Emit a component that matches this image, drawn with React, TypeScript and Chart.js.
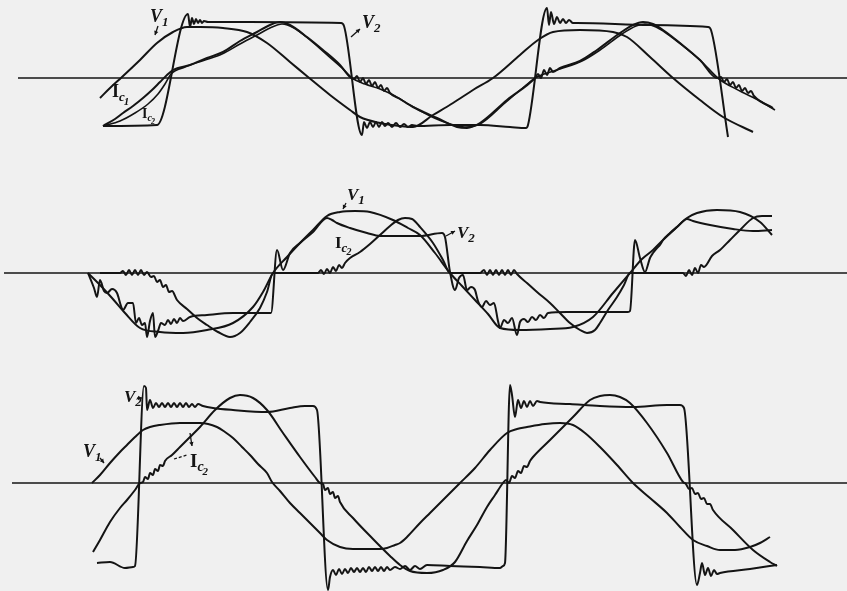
import React, { useEffect, useRef } from "react";
import { Chart, registerables } from "chart.js";

Chart.register(...registerables);

type P = [number, number];

// ---------- Panel 1 (time units, amplitude relative to zero line) ----------
const p1Axis: P[] = [[18, 0], [847, 0]];
const p1V1: P[] = [[100, -20], [110, -10], [122, 1], [140, 18], [157, 35], [173, 46], [187, 51], [200, 51], [223, 50], [247, 46], [267, 35], [290, 16], [308, 1], [330, -17], [350, -32], [360, -39], [380, -45], [400, -48], [413, -49], [433, -37], [453, -25], [473, -12], [493, 0], [520, 23], [538, 38], [553, 46], [580, 48], [613, 46], [627, 41], [650, 21], [673, 0], [700, -22], [723, -39], [753, -54]];
const p1V2: P[] = [[103, -48], [157, -47], [188, 64], [190, 51], [192, 60], [194, 54], [196, 59], [198, 55], [200, 58], [202, 55], [204, 57], [208, 56], [250, 56], [341, 55], [344, 52], [362, -57], [364, -44], [367, -50], [370, -44], [373, -49], [376, -44], [379, -49], [382, -44], [385, -48], [388, -45], [392, -49], [396, -45], [400, -49], [404, -46], [408, -49], [412, -47], [417, -48], [450, -47], [480, -47], [510, -49], [526, -50], [528, -47], [547, 70], [549, 53], [551, 66], [554, 54], [557, 61], [560, 55], [563, 59], [566, 55], [569, 58], [573, 55], [577, 55], [650, 53], [708, 51], [711, 48], [728, -59]];
const p1Ic1: P[] = [[103, -48], [115, -41], [123, -35], [133, -28], [143, -20], [152, -12], [160, -4], [167, 3], [173, 8], [190, 13], [207, 20], [223, 26], [240, 37], [257, 46], [270, 53], [280, 56], [290, 53], [307, 41], [323, 28], [340, 13], [350, 1], [354, -1], [357, 2], [360, -4], [363, 0], [366, -6], [369, -2], [372, -8], [375, -4], [378, -10], [381, -7], [384, -13], [387, -10], [390, -15], [400, -21], [413, -29], [437, -40], [457, -49], [467, -50], [480, -45], [507, -22], [535, 0], [538, 4], [541, 0], [544, 8], [547, 3], [550, 10], [553, 6], [560, 10], [580, 17], [597, 28], [620, 45], [633, 53], [643, 56], [653, 54], [663, 48], [680, 35], [700, 18], [717, 0], [721, 1], [724, -4], [727, -1], [730, -7], [733, -4], [736, -10], [739, -7], [742, -13], [745, -10], [748, -15], [751, -13], [754, -18], [773, -30]];
const p1Ic2: P[] = [[103, -48], [120, -43], [135, -35], [148, -26], [158, -16], [165, -6], [171, 4], [185, 11], [205, 18], [222, 24], [240, 34], [257, 43], [270, 50], [282, 54], [294, 50], [310, 38], [326, 24], [342, 10], [352, 0], [365, -6], [380, -11], [395, -18], [410, -27], [430, -38], [450, -46], [465, -49], [480, -46], [505, -25], [525, -8], [537, 1], [560, 9], [582, 17], [600, 28], [622, 44], [636, 52], [645, 54], [656, 51], [666, 45], [683, 32], [702, 16], [719, -1], [740, -13], [760, -23], [775, -32]];

// ---------- Panel 2 ----------
const p2Axis: P[] = [[4, 0], [847, 0]];
const p2V1: P[] = [[88, 0], [100, -12], [112, -25], [125, -40], [140, -55], [160, -59], [183, -60], [207, -57], [233, -50], [253, -34], [263, -19], [273, 0], [287, 16], [300, 30], [313, 43], [327, 57], [340, 61], [355, 62], [370, 61], [393, 53], [408, 45], [420, 38], [435, 20], [450, 0], [462, -13], [475, -27], [488, -41], [500, -55], [520, -57], [550, -56], [573, -54], [593, -44], [613, -20], [630, 0], [642, 14], [653, 23], [663, 33], [677, 46], [687, 55], [697, 60], [717, 63], [740, 61], [760, 51], [772, 38]];
const p2V2: P[] = [[88, 0], [94, -15], [97, -24], [100, -7], [104, -18], [107, -20], [112, -16], [117, -20], [121, -33], [123, -37], [128, -30], [133, -30], [136, -50], [139, -45], [142, -52], [145, -50], [147, -64], [150, -48], [153, -40], [155, -64], [158, -58], [161, -50], [165, -52], [168, -47], [171, -51], [174, -46], [177, -50], [180, -45], [183, -48], [190, -44], [207, -42], [233, -40], [267, -40], [271, -40], [277, 23], [283, 3], [290, 20], [300, 30], [313, 41], [327, 55], [332, 53], [337, 50], [350, 45], [367, 40], [380, 37], [400, 37], [420, 37], [442, 40], [445, 36], [450, 1], [455, -17], [459, -5], [463, -2], [467, -17], [471, -14], [475, -17], [478, -28], [482, -34], [486, -28], [490, -32], [494, -30], [498, -48], [500, -55], [504, -47], [508, -50], [512, -45], [517, -62], [520, -49], [524, -46], [528, -49], [532, -44], [536, -47], [540, -42], [544, -45], [548, -40], [567, -39], [600, -39], [628, -39], [630, -38], [635, 33], [640, 15], [645, 1], [650, 15], [653, 20], [657, 25], [660, 28], [663, 33], [670, 40], [677, 46], [687, 54], [693, 52], [710, 48], [733, 44], [753, 42], [772, 43]];
const p2Ic2: P[] = [[100, 0], [120, 0], [123, 2], [126, -2], [129, 3], [132, -2], [135, 3], [138, -2], [141, 3], [144, -2], [147, 1], [151, -4], [154, -3], [157, -9], [160, -7], [163, -14], [166, -12], [169, -19], [172, -18], [177, -27], [187, -36], [197, -45], [207, -52], [218, -59], [230, -64], [240, -60], [250, -49], [260, -35], [267, -19], [273, 0], [285, 0], [300, 0], [318, 0], [321, 3], [324, -1], [327, 4], [330, 0], [333, 6], [336, 2], [339, 8], [342, 5], [345, 10], [350, 15], [360, 21], [370, 29], [380, 38], [390, 47], [398, 53], [405, 55], [412, 54], [420, 46], [433, 30], [443, 13], [450, 0], [465, 0], [480, 0], [484, 3], [487, -2], [490, 3], [493, -2], [496, 3], [499, -2], [502, 3], [505, -2], [508, 3], [511, -2], [514, 3], [517, -1], [527, -10], [537, -19], [550, -30], [560, -40], [570, -50], [580, -57], [587, -60], [595, -57], [600, -50], [608, -37], [617, -24], [624, -12], [630, 0], [650, 0], [683, 0], [686, -3], [689, 3], [692, -2], [695, 5], [698, 0], [701, 8], [704, 6], [712, 17], [720, 23], [730, 33], [740, 43], [753, 55], [762, 57], [772, 57]];

// ---------- Panel 3 ----------
const p3Axis: P[] = [[12, 0], [847, 0]];
const p3V1: P[] = [[92, 0], [100, 8], [110, 20], [120, 31], [127, 38], [135, 46], [143, 53], [150, 56], [160, 58], [180, 60], [200, 60], [217, 56], [225, 51], [233, 45], [242, 36], [250, 28], [258, 19], [267, 10], [272, 1], [280, -8], [290, -20], [300, -30], [310, -40], [320, -50], [327, -57], [340, -64], [353, -66], [367, -66], [380, -66], [387, -65], [395, -62], [400, -60], [407, -54], [420, -40], [430, -30], [440, -20], [450, -10], [460, 0], [475, 15], [490, 33], [507, 50], [517, 54], [527, 56], [545, 59], [560, 60], [573, 58], [585, 50], [600, 36], [617, 18], [633, 0], [650, -15], [667, -30], [680, -44], [693, -57], [707, -63], [720, -67], [735, -67], [750, -64], [760, -60], [770, -54]];
const p3V2: P[] = [[97, -80], [110, -79], [125, -85], [133, -84], [135, -83], [144, 97], [146, 95], [147, 73], [150, 83], [153, 75], [156, 80], [159, 76], [162, 80], [165, 76], [168, 80], [171, 76], [174, 80], [177, 76], [180, 80], [183, 76], [186, 80], [189, 76], [192, 79], [195, 76], [198, 79], [203, 77], [213, 75], [233, 73], [267, 71], [290, 75], [305, 77], [313, 77], [317, 73], [328, -107], [330, -94], [333, -87], [336, -92], [339, -86], [342, -91], [345, -86], [348, -90], [351, -85], [354, -89], [357, -85], [360, -89], [363, -85], [366, -89], [369, -84], [372, -88], [375, -84], [378, -88], [381, -84], [384, -88], [387, -84], [390, -87], [395, -84], [400, -86], [405, -83], [410, -87], [415, -83], [420, -86], [427, -82], [450, -83], [480, -84], [500, -85], [503, -83], [505, -80], [510, 98], [512, 88], [515, 66], [518, 83], [521, 75], [524, 82], [527, 76], [530, 82], [533, 77], [537, 82], [540, 81], [570, 79], [600, 77], [633, 76], [667, 78], [680, 78], [684, 75], [697, -102], [700, -90], [702, -80], [705, -92], [708, -85], [711, -93], [714, -87], [717, -91], [720, -90], [750, -86], [777, -82]];
const p3Ic2: P[] = [[93, -69], [100, -57], [110, -39], [120, -25], [127, -17], [135, -7], [140, 0], [143, 1], [145, 6], [148, 4], [150, 10], [153, 8], [155, 14], [158, 12], [160, 18], [163, 17], [165, 22], [172, 28], [180, 36], [190, 46], [200, 56], [215, 73], [230, 85], [240, 88], [253, 85], [267, 73], [283, 50], [300, 26], [315, 6], [320, 0], [323, -1], [325, -7], [328, -5], [330, -11], [333, -9], [335, -15], [338, -13], [340, -19], [353, -35], [373, -56], [390, -73], [400, -82], [410, -88], [427, -90], [443, -87], [455, -79], [467, -58], [477, -42], [487, -24], [495, -12], [503, 0], [506, 3], [509, 0], [512, 7], [515, 5], [518, 12], [521, 10], [524, 17], [527, 16], [530, 22], [533, 26], [550, 43], [560, 53], [573, 66], [590, 83], [600, 87], [610, 88], [620, 86], [630, 80], [647, 60], [667, 30], [683, 1], [686, -1], [689, -6], [692, -5], [695, -11], [698, -10], [701, -16], [704, -15], [707, -21], [710, -21], [713, -27], [733, -47], [753, -67], [770, -79], [777, -83]];

// ---------- styling / layout (not data) ----------
const INK = "#141414";
const PAPER = "#f0f0f0";
const FONT = '"Liberation Serif", "DejaVu Serif", serif';

type Lbl = { x: number; a: number; main: string; sub?: string; sub2?: string; size: number; italic: boolean };
type Arw = { x0: number; a0: number; x1: number; a1: number; head?: boolean; dash?: boolean };

const labelPlugin = {
  id: "waveLabels",
  afterDatasetsDraw(chart: any, _args: any, opts: any) {
    const ctx: CanvasRenderingContext2D = chart.ctx;
    const xs = chart.scales.x;
    const ys = chart.scales.y;
    ctx.save();
    ctx.fillStyle = INK;
    ctx.strokeStyle = INK;
    ctx.textBaseline = "alphabetic";
    for (const L of (opts.items || []) as Lbl[]) {
      let px = xs.getPixelForValue(L.x);
      const py = ys.getPixelForValue(L.a);
      ctx.font = `${L.italic ? "italic " : ""}bold ${L.size}px ${FONT}`;
      ctx.fillText(L.main, px, py);
      px += ctx.measureText(L.main).width;
      if (L.sub) {
        const s = Math.round(L.size * 0.74);
        ctx.font = `italic bold ${s}px ${FONT}`;
        ctx.fillText(L.sub, px, py + L.size * 0.22);
        px += ctx.measureText(L.sub).width - 1;
      }
      if (L.sub2) {
        const s2 = Math.round(L.size * 0.6);
        ctx.font = `italic bold ${s2}px ${FONT}`;
        ctx.fillText(L.sub2, px, py + L.size * 0.42);
      }
    }
    for (const A of (opts.arrows || []) as Arw[]) {
      const x0 = xs.getPixelForValue(A.x0);
      const y0 = ys.getPixelForValue(A.a0);
      const x1 = xs.getPixelForValue(A.x1);
      const y1 = ys.getPixelForValue(A.a1);
      ctx.lineWidth = 1.3;
      ctx.setLineDash(A.dash ? [3, 2] : []);
      ctx.beginPath();
      ctx.moveTo(x0, y0);
      ctx.lineTo(x1, y1);
      ctx.stroke();
      ctx.setLineDash([]);
      if (A.head) {
        const ang = Math.atan2(y1 - y0, x1 - x0);
        const h = 4.5;
        ctx.beginPath();
        ctx.moveTo(x1, y1);
        ctx.lineTo(x1 - h * Math.cos(ang - 0.5), y1 - h * Math.sin(ang - 0.5));
        ctx.lineTo(x1 - h * Math.cos(ang + 0.5), y1 - h * Math.sin(ang + 0.5));
        ctx.closePath();
        ctx.fill();
      }
    }
    ctx.restore();
  },
};

const toXY = (pts: P[]) => pts.map(([x, y]) => ({ x, y }));

function curve(label: string, pts: P[], width = 2) {
  return {
    label,
    data: toXY(pts),
    borderColor: INK,
    borderWidth: width,
    pointRadius: 0,
    fill: false,
    cubicInterpolationMode: "monotone" as const,
  };
}

type PanelProps = {
  top: number;
  height: number;
  yMin: number;
  yMax: number;
  series: { label: string; pts: P[]; width?: number }[];
  labels: Lbl[];
  arrows: Arw[];
};

function Panel({ top, height, yMin, yMax, series, labels, arrows }: PanelProps) {
  const ref = useRef<HTMLCanvasElement | null>(null);
  useEffect(() => {
    if (!ref.current) return;
    const chart = new Chart(ref.current, {
      type: "line",
      data: { datasets: series.map((s) => curve(s.label, s.pts, s.width)) as any },
      options: {
        animation: false,
        responsive: false,
        maintainAspectRatio: false,
        layout: { padding: 0 },
        scales: {
          x: { type: "linear", min: 0, max: 847, display: false },
          y: { type: "linear", min: yMin, max: yMax, display: false },
        },
        plugins: {
          legend: { display: false },
          tooltip: { enabled: false },
          waveLabels: { items: labels, arrows },
        } as any,
      },
      plugins: [labelPlugin],
    });
    return () => chart.destroy();
  }, []);
  return (
    <canvas
      ref={ref}
      width={847}
      height={height}
      style={{ position: "absolute", left: 0, top, width: 847, height, display: "block" }}
    />
  );
}

export default function App() {
  return (
    <div style={{ position: "fixed", left: 0, top: 0, width: 847, height: 591, background: PAPER, overflow: "hidden" }}>
      <Panel
        top={0}
        height={150}
        yMin={-72}
        yMax={78}
        series={[
          { label: "axis", pts: p1Axis, width: 1.4 },
          { label: "V1", pts: p1V1 },
          { label: "V2", pts: p1V2 },
          { label: "Ic1", pts: p1Ic1 },
          { label: "Ic2", pts: p1Ic2, width: 1.6 },
        ]}
        labels={[
          { x: 150, a: 56, main: "V", sub: "1", size: 18, italic: true },
          { x: 362, a: 50, main: "V", sub: "2", size: 18, italic: true },
          { x: 112, a: -19, main: "I", sub: "c", sub2: "1", size: 18, italic: false },
          { x: 142, a: -40, main: "I", sub: "c", sub2: "2", size: 14, italic: false },
        ]}
        arrows={[
          { x0: 158, a0: 52, x1: 155, a1: 43, head: true },
          { x0: 351, a0: 41, x1: 360, a1: 49, head: true },
        ]}
      />
      <Panel
        top={150}
        height={230}
        yMin={-107}
        yMax={123}
        series={[
          { label: "axis", pts: p2Axis, width: 1.4 },
          { label: "V1", pts: p2V1 },
          { label: "V2", pts: p2V2 },
          { label: "Ic2", pts: p2Ic2 },
        ]}
        labels={[
          { x: 347, a: 73, main: "V", sub: "1", size: 17, italic: true },
          { x: 335, a: 25, main: "I", sub: "c", sub2: "2", size: 17, italic: false },
          { x: 457, a: 35, main: "V", sub: "2", size: 17, italic: true },
        ]}
        arrows={[
          { x0: 346, a0: 70, x1: 343, a1: 64, head: true },
          { x0: 446, a0: 37, x1: 455, a1: 42, head: true },
        ]}
      />
      <Panel
        top={380}
        height={211}
        yMin={-108}
        yMax={103}
        series={[
          { label: "axis", pts: p3Axis, width: 1.4 },
          { label: "V1", pts: p3V1 },
          { label: "V2", pts: p3V2 },
          { label: "Ic2", pts: p3Ic2 },
        ]}
        labels={[
          { x: 124, a: 81, main: "V", sub: "2", size: 17, italic: true },
          { x: 83, a: 26, main: "V", sub: "1", size: 18, italic: true },
          { x: 190, a: 16, main: "I", sub: "c", sub2: "2", size: 19, italic: false },
        ]}
        arrows={[
          { x0: 137, a0: 85, x1: 142, a1: 85, head: true },
          { x0: 100, a0: 25, x1: 104, a1: 20, head: true },
          { x0: 174, a0: 24, x1: 187, a1: 28, dash: true },
          { x0: 190, a0: 50, x1: 192, a1: 37, head: true },
        ]}
      />
    </div>
  );
}
